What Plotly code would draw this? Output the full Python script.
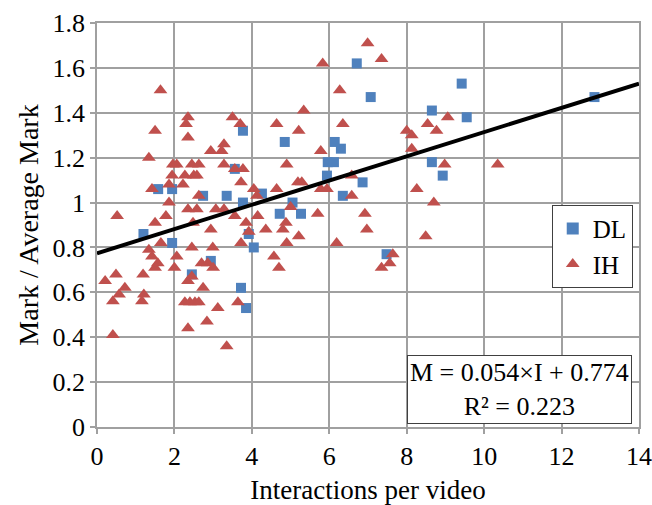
import plotly.graph_objects as go

dl_x = [1.2, 1.58, 1.94, 1.94, 2.45, 2.74, 2.94, 3.35, 3.56, 3.72, 3.77, 3.77, 3.85, 3.92, 4.05, 4.26,
        4.72, 4.85, 5.05, 5.27, 5.94, 5.96, 6.12, 6.14, 6.3, 6.35, 6.71, 6.86, 7.07, 7.48, 8.65, 8.65,
        8.93, 9.42, 9.55, 12.85]
dl_y = [0.86, 1.06, 1.06, 0.82, 0.68, 1.03, 0.74, 1.03, 1.15, 0.62, 1.32, 1.0, 0.53, 0.86, 0.80, 1.04,
        0.95, 1.27, 1.0, 0.95, 1.12, 1.18, 1.18, 1.27, 1.24, 1.03, 1.62, 1.09, 1.47, 0.77, 1.41, 1.18,
        1.12, 1.53, 1.38, 1.47]

ih_x = [0.21, 0.41, 0.41, 0.49, 0.52, 0.57, 0.72,
        1.16, 1.19, 1.21, 1.34, 1.34, 1.42, 1.42, 1.5, 1.5, 1.5, 1.57, 1.64, 1.65, 1.78, 1.86, 1.86,
        1.94, 1.96, 2.0, 2.06, 2.06,
        2.22, 2.27, 2.27, 2.3, 2.35, 2.35, 2.35, 2.35, 2.35, 2.4, 2.45, 2.45, 2.45, 2.48, 2.5, 2.53,
        2.58, 2.58, 2.63, 2.63, 2.63, 2.7, 2.74, 2.84, 2.86, 2.94, 2.94, 2.99, 3.0, 3.07, 3.12, 3.22,
        3.28, 3.28, 3.28, 3.35, 3.5, 3.56, 3.56, 3.64, 3.7, 3.72, 3.72, 3.77, 3.85, 3.92, 4.05, 4.13,
        4.15, 4.36, 4.57, 4.64, 4.64, 4.7, 4.8, 4.88, 4.9, 4.9, 5.0, 5.19, 5.21, 5.21, 5.29, 5.34,
        5.7, 5.78, 5.78, 5.83, 5.94, 6.19, 6.27, 6.35, 6.58, 6.58, 6.92, 6.97, 6.99, 7.35, 7.35, 7.56,
        7.64, 8.0, 8.13, 8.13, 8.26, 8.49, 8.54, 8.7, 8.77, 8.98, 9.06, 10.35]
ih_y = [0.65, 0.41, 0.56, 0.68, 0.94, 0.59, 0.62,
        0.56, 0.68, 0.59, 1.20, 0.79, 0.76, 1.06, 1.32, 0.91, 0.71, 0.73, 1.50, 0.82, 0.94, 1.08, 1.0,
        1.12, 1.17, 0.71, 1.17, 0.76,
        1.08, 1.12, 0.556, 1.35, 1.38, 1.29, 0.97, 0.65, 0.44, 0.556, 1.17, 0.80, 0.67, 0.91, 1.12, 0.556,
        1.12, 0.97, 1.17, 1.03, 0.556, 0.73, 0.62, 0.47, 0.73, 1.23, 0.88, 0.80, 0.71, 0.97, 0.53, 1.23,
        1.26, 1.17, 0.97, 0.36, 1.38, 1.15, 0.94, 0.556, 1.35, 1.09, 0.82, 1.15, 0.91, 0.87, 1.06, 1.03,
        0.94, 0.88, 0.76, 1.35, 1.06, 0.71, 0.88, 0.91, 1.17, 0.82, 0.98, 1.09, 1.32, 0.85, 1.09, 1.41,
        0.95, 1.23, 1.06, 1.62, 1.06, 0.82, 1.50, 1.35, 1.12, 1.03, 0.95, 0.88, 1.71, 1.64, 0.71, 0.73,
        0.77, 1.32, 1.30, 1.24, 1.06, 0.85, 1.35, 1.0, 1.32, 1.17, 1.38, 1.17]

slope = 0.054
intercept = 0.774
trend_x = [0, 14]
trend_y = [slope * v + intercept for v in trend_x]

x_ticks = [0, 2, 4, 6, 8, 10, 12, 14]
y_ticks = [0, 0.2, 0.4, 0.6, 0.8, 1.0, 1.2, 1.4, 1.6, 1.8]
y_labels = ["0", "0.2", "0.4", "0.6", "0.8", "1", "1.2", "1.4", "1.6", "1.8"]

FONT = "Liberation Serif"
GRID = "#a0a0a0"
FS = 26

fig = go.Figure()
fig.add_trace(go.Scatter(x=dl_x, y=dl_y, mode="markers", name="DL",
                         marker=dict(symbol="square", size=10, color="#4F81BD", line=dict(width=0))))
fig.add_trace(go.Scatter(x=ih_x, y=ih_y, mode="markers", name="IH",
                         marker=dict(symbol="triangle-up", size=12, color="#C0504D", line=dict(width=0))))
fig.add_trace(go.Scatter(x=trend_x, y=trend_y, mode="lines", showlegend=False,
                         line=dict(color="black", width=4)))

fig.update_layout(
    width=652, height=505,
    margin=dict(l=97, r=13, t=23, b=78),
    paper_bgcolor="white", plot_bgcolor="white",
    font=dict(family=FONT, size=FS, color="black"),
    legend=dict(x=0.839, y=0.55, xanchor="left", yanchor="top",
                bordercolor="#404040", borderwidth=1, bgcolor="white",
                font=dict(family=FONT, size=25), tracegroupgap=0, itemsizing="constant"),
    annotations=[dict(xref="paper", yref="paper", x=0.779, y=0.093,
                      xanchor="center", yanchor="middle",
                      text="M = 0.054×I + 0.774<br>R² = 0.223", showarrow=False,
                      font=dict(size=FS, family=FONT), bordercolor="#404040", borderwidth=1,
                      bgcolor="white", borderpad=2)],
)
fig.update_xaxes(range=[0, 14], tickvals=x_ticks, showgrid=True, gridcolor=GRID, gridwidth=1.5,
                 showline=True, linecolor=GRID, linewidth=1.5, mirror=True, automargin=False,
                 ticks="outside", ticklen=5, tickcolor=GRID, tickwidth=1.5, zeroline=False,
                 tickfont=dict(family=FONT, size=FS),
                 title=dict(text="Interactions per video", standoff=12, font=dict(family=FONT, size=27)))
fig.update_yaxes(range=[0, 1.8], tickvals=y_ticks, ticktext=y_labels, showgrid=True, gridcolor=GRID,
                 gridwidth=1.5, showline=True, linecolor=GRID, linewidth=1.5, mirror=True, automargin=False,
                 ticks="outside", ticklen=5, tickcolor=GRID, tickwidth=1.5, zeroline=False,
                 tickfont=dict(family=FONT, size=FS),
                 title=dict(text="Mark / Average Mark", standoff=6, font=dict(family=FONT, size=28)))

fig.write_html("out.html", config={"displayModeBar": False},
               post_script="document.body.style.margin='0';document.body.style.overflow='hidden';")
